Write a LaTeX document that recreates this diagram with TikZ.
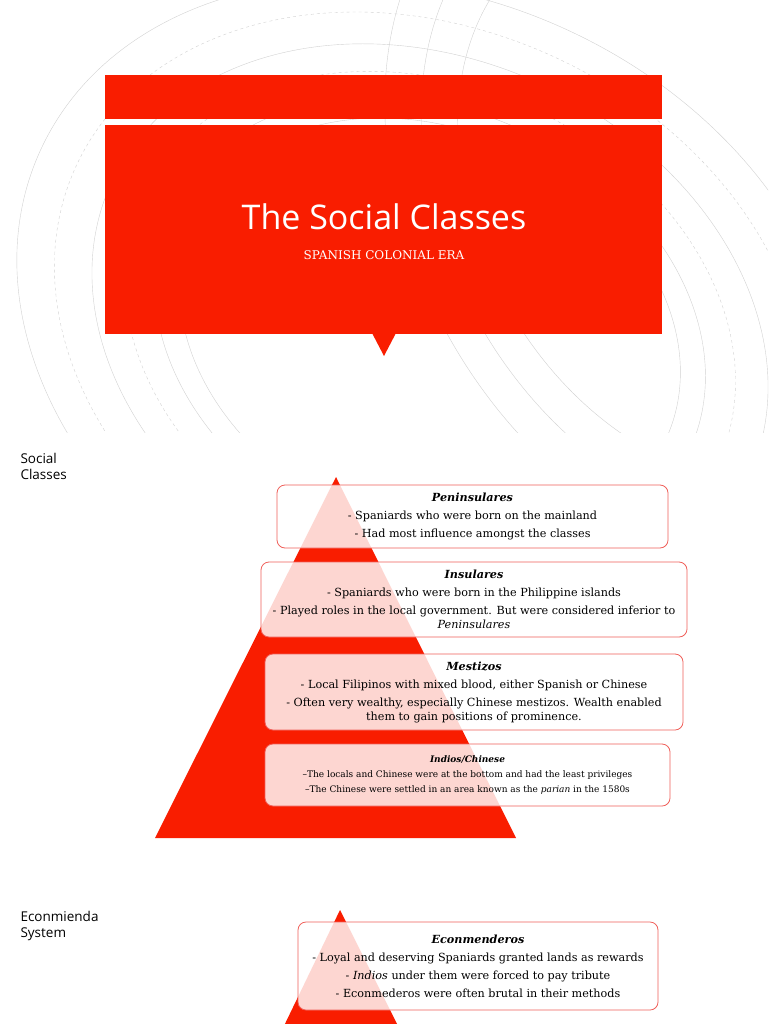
\documentclass[tikz,border=0pt]{standalone}
\usepackage{fontspec}
\setmainfont{DejaVu Serif}
\newfontfamily\titlefont{Open Sans}
\newfontfamily\labfont{Open Sans}
\definecolor{sred}{HTML}{F91D00}
\definecolor{bred}{HTML}{F0605A}
\begin{document}
\begin{tikzpicture}[x=1pt,y=-1pt,
  bx/.style={draw=bred,line width=0.8pt,rounded corners=8pt,fill=white,fill opacity=0.82,text opacity=1,align=center,font=\fontsize{11.2}{18}\selectfont,inner sep=0pt},
  lab/.style={anchor=north west,align=left,font=\labfont\fontsize{13.5}{16}\selectfont},
  arcA/.style={gray!35,line width=0.4pt},
  arcB/.style={gray!35,line width=0.4pt,dashed}]
\useasboundingbox (0,0) rectangle (768,1024);
\fill[white] (0,0) rectangle (768,1024);
% background arcs
\begin{scope}
\clip (0,0) rectangle (768,432);
\foreach \r/\s in {1/arcA,1.1/arcA,1.22/arcB,1.35/arcA,1.5/arcB,1.65/arcA}{
  \draw[\s,rotate around={-25:(430,330)}] (430,330) ellipse ({260*\r} and {200*\r});
}
\foreach \r in {1,1.15,1.3}{
  \draw[arcA,rotate around={30:(700,200)}] (700,200) ellipse ({220*\r} and {300*\r});
}
\end{scope}
% title block
\fill[sred] (105,75) rectangle (662,119);
\fill[sred] (105,125) rectangle (662,334);
\fill[sred] (372,333) -- (396,333) -- (384,356) -- cycle;
\node[text=white,font=\titlefont\fontsize{34}{40}\selectfont] (title) at (384,217) {The Social Classes};
\node[text=white,font=\fontsize{12}{14}\selectfont] (sub) at (384,255) {SPANISH COLONIAL ERA};
% section 1
\node[lab] (l1) at (17,450) {Social\\Classes};
\fill[sred] (336,477) -- (516,838) -- (155,838) -- cycle;
\node[bx,minimum width=391pt,minimum height=63pt] (b1) at (472.5,516.5) {\textbf{\textit{Peninsulares}}\\- Spaniards who were born on the mainland\\- Had most influence amongst the classes};
\node[bx,minimum width=426pt,minimum height=75pt] (b2) at (474,599.5) {\textbf{\textit{Insulares}}\\- Spaniards who were born in the Philippine islands\\- Played roles in the local government. But were considered inferior to\\[-4pt]\textit{Peninsulares}};
\node[bx,minimum width=418pt,minimum height=76pt] (b3) at (474,692) {\textbf{\textit{Mestizos}}\\- Local Filipinos with mixed blood, either Spanish or Chinese\\- Often very wealthy, especially Chinese mestizos. Wealth enabled\\[-4pt]them to gain positions of prominence.};
\node[bx,minimum width=405pt,minimum height=62pt,font=\fontsize{9}{15}\selectfont] (b4) at (467.5,775) {\textbf{\textit{Indios/Chinese}}\\--The locals and Chinese were at the bottom and had the least privileges\\--The Chinese were settled in an area known as the \textit{parian} in the 1580s};
% section 2
\node[lab] (l2) at (17,908) {Econmienda\\System};
\fill[sred] (340,910) -- (400,1030) -- (282,1030) -- cycle;
\node[bx,minimum width=360pt,minimum height=88pt] (b5) at (478,966) {\textbf{\textit{Econmenderos}}\\- Loyal and deserving Spaniards granted lands as rewards\\- \textit{Indios} under them were forced to pay tribute\\- Econmederos were often brutal in their methods};
\end{tikzpicture}
\end{document}
